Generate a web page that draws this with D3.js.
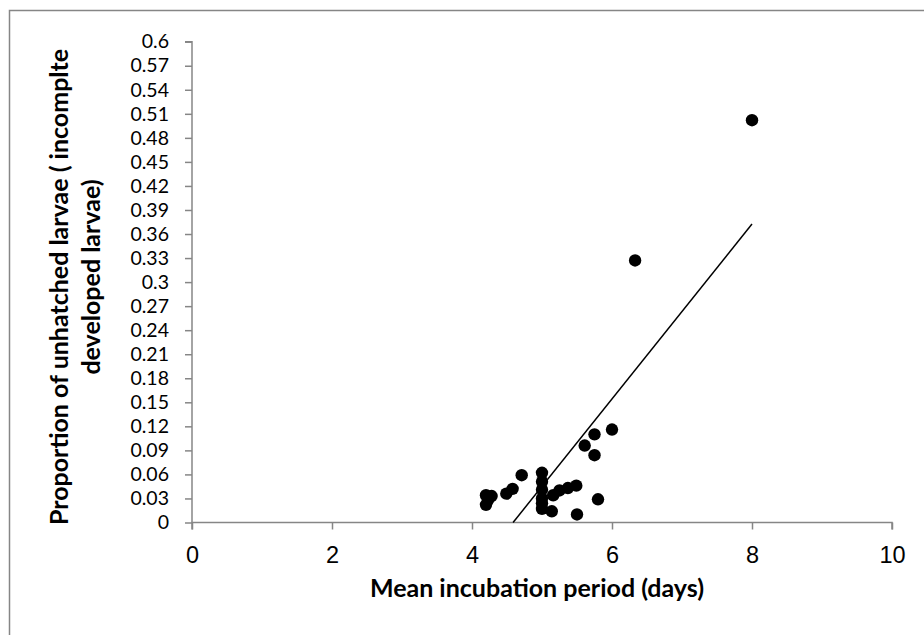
<!DOCTYPE html>
<html>
<head>
<meta charset="utf-8">
<script src="https://cdn.jsdelivr.net/npm/d3@7/dist/d3.min.js"></script>
<style>
  html, body { margin: 0; padding: 0; background: #fff; }
  svg { display: block; }
</style>
</head>
<body>
<svg id="chart" width="924" height="635"></svg>
<script>
// ---- data ----
const incubationDays = [
  4.20, 4.28, 4.20, 4.23, 4.49, 4.58, 4.71,
  5.00, 5.00, 5.00, 5.00, 5.00, 5.00,
  5.14, 5.16, 5.25, 5.37, 5.49, 5.50,
  5.61, 5.75, 5.75, 5.80, 6.00, 6.33, 8.00
];
const unhatchedProportion = [
  0.034, 0.033, 0.022, 0.028, 0.036, 0.042, 0.059,
  0.062, 0.051, 0.041, 0.030, 0.017, 0.024,
  0.014, 0.034, 0.040, 0.043, 0.046, 0.010,
  0.096, 0.110, 0.084, 0.029, 0.116, 0.327, 0.502
];
const trendSlope = 0.1091;
const trendIntercept = -0.5004;
const xTicks = [0, 2, 4, 6, 8, 10];
const yTicks = d3.range(0, 21).map(i => +(i * 0.03).toFixed(2));
const xTitle = "Mean incubation period (days)";
const yTitleLines = ["Proportion of unhatched larvae ( incomplte", "developed larvae)"];

// ---- layout ----
const svg = d3.select("#chart");
const plotLeft = 192, plotRight = 892, plotTop = 41.7, plotBottom = 522.5;
const x = d3.scaleLinear().domain([0, 10]).range([plotLeft, plotRight]);
const y = d3.scaleLinear().domain([0, 0.6]).range([plotBottom, plotTop]);
const axisColor = "#868686";

// outer chart-area border
svg.append("rect")
  .attr("x", 9.5).attr("y", 10.5)
  .attr("width", 1000).attr("height", 1000)
  .attr("fill", "none").attr("stroke", axisColor).attr("stroke-width", 1.5);

// y axis
const yAxis = svg.append("g")
  .attr("transform", `translate(${plotLeft},0)`)
  .call(d3.axisLeft(y).tickValues(yTicks).tickSize(7).tickPadding(16)
    .tickFormat(d => d3.format("")(d)));
yAxis.select(".domain").attr("stroke", axisColor).attr("stroke-width", 1.5).attr("d", `M-7,${plotTop}H0V${plotBottom}`);
yAxis.selectAll(".tick line").attr("stroke", axisColor).attr("stroke-width", 1.5);
yAxis.selectAll(".tick text")
  .attr("font-family", "Lato, 'Open Sans', sans-serif")
  .attr("font-size", 19.5).attr("fill", "#000");

// x axis
const xAxis = svg.append("g")
  .attr("transform", `translate(0,${plotBottom})`)
  .call(d3.axisBottom(x).tickValues(xTicks).tickSize(7).tickPadding(17));
xAxis.select(".domain").attr("stroke", axisColor).attr("stroke-width", 1.5).attr("d", `M${plotLeft},7V0H${plotRight}V7`);
xAxis.selectAll(".tick line").attr("stroke", axisColor).attr("stroke-width", 1.5);
xAxis.selectAll(".tick text")
  .attr("font-family", "'Liberation Sans', Arial, sans-serif")
  .attr("font-size", 23.5).attr("fill", "#000");

// trend line (clipped to plot area, y >= 0)
const xStart = Math.max(d3.min(incubationDays), -trendIntercept / trendSlope);
const xEnd = d3.max(incubationDays);
svg.append("line")
  .attr("x1", x(xStart)).attr("y1", y(trendSlope * xStart + trendIntercept))
  .attr("x2", x(xEnd)).attr("y2", y(trendSlope * xEnd + trendIntercept))
  .attr("stroke", "#000").attr("stroke-width", 1.5);

// points
svg.append("g").selectAll("circle")
  .data(incubationDays.map((d, i) => [d, unhatchedProportion[i]]))
  .join("circle")
  .attr("cx", d => x(d[0])).attr("cy", d => y(d[1]))
  .attr("r", 6.2).attr("fill", "#000");

// axis titles
svg.append("text")
  .attr("x", 537).attr("y", 597)
  .attr("text-anchor", "middle")
  .attr("font-family", "Lato, 'Open Sans', sans-serif")
  .attr("font-weight", "bold").attr("font-size", 25)
  .text(xTitle);

const yt = svg.append("text")
  .attr("transform", `translate(0,282) rotate(-90)`)
  .attr("text-anchor", "middle")
  .attr("font-family", "Lato, 'Open Sans', sans-serif")
  .attr("font-weight", "bold").attr("font-size", 25);
yt.selectAll("tspan").data(yTitleLines).join("tspan")
  .attr("x", (d, i) => i === 0 ? -5 : 5)
  .attr("y", (d, i) => 68 + i * 32)
  .text(d => d);
</script>
</body>
</html>
